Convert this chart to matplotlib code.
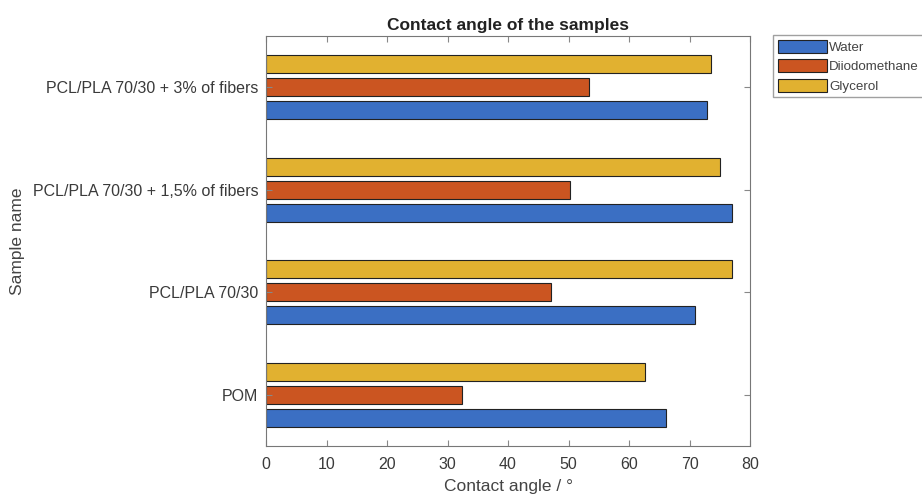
import numpy as np
import matplotlib
matplotlib.use('Agg')
from matplotlib import pyplot as plt

plt.rcParams['font.family'] = ['Liberation Sans', 'DejaVu Sans']

samples = ['POM', 'PCL/PLA 70/30', 'PCL/PLA 70/30 + 1,5% of fibers',
           'PCL/PLA 70/30 + 3% of fibers']
water = [66.1, 70.9, 77.0, 72.9]
diiodomethane = [32.4, 47.1, 50.2, 53.4]
glycerol = [62.6, 77.0, 75.0, 73.6]
liquids = ['Water', 'Diiodomethane', 'Glycerol']
colors = ['#3b6fc3', '#cb5521', '#e1b130']

fig = plt.figure(figsize=(9.22, 4.96), dpi=100)
ax = fig.add_axes([266 / 922, 1 - 446 / 496, 484 / 922, 410 / 496])

y = np.arange(1, len(samples) + 1)
offset = 0.223
h = 0.175
for i, (vals, name, c) in enumerate(zip([water, diiodomethane, glycerol], liquids, colors)):
    ax.barh(y + (i - 1) * offset, vals, height=h, color=c, edgecolor='#222222',
            linewidth=0.8, label=name)

ax.set_xlim(0, 80)
ax.set_ylim(0.5, 4.5)
ax.set_xticks(range(0, 81, 10))
ax.set_yticks(y)
ax.set_yticklabels(samples)
ax.tick_params(direction='in', length=4, top=True, right=True, colors='#888888',
               labelcolor='#3a3a3a', labelsize=11.5)
ax.tick_params(axis='x', pad=8)
ax.tick_params(axis='y', pad=5.5)
for s in ax.spines.values():
    s.set_color('#777777')
    s.set_linewidth(0.8)

ax.set_title('Contact angle of the samples', fontsize=12.5, fontweight='bold',
             color='#222222', pad=4)
ax.set_xlabel('Contact angle / °', fontsize=12.5, color='#444444', labelpad=5)
ax.set_ylabel('Sample name', fontsize=12.5, color='#444444')
ax.yaxis.set_label_coords(-0.498, 0.5)

handles, labels = ax.get_legend_handles_labels()
leg = fig.legend(handles, labels, loc='upper left', bbox_to_anchor=(773 / 922, 1 - 35 / 496),
                 fontsize=9.6, frameon=True, fancybox=False, edgecolor='#888888',
                 handlelength=3.7, handleheight=1.15, labelspacing=0.4,
                 handletextpad=0.15, borderaxespad=0, borderpad=0.35)
for t in leg.get_texts():
    t.set_color('#444444')

fig.savefig('out.png', dpi=100)
